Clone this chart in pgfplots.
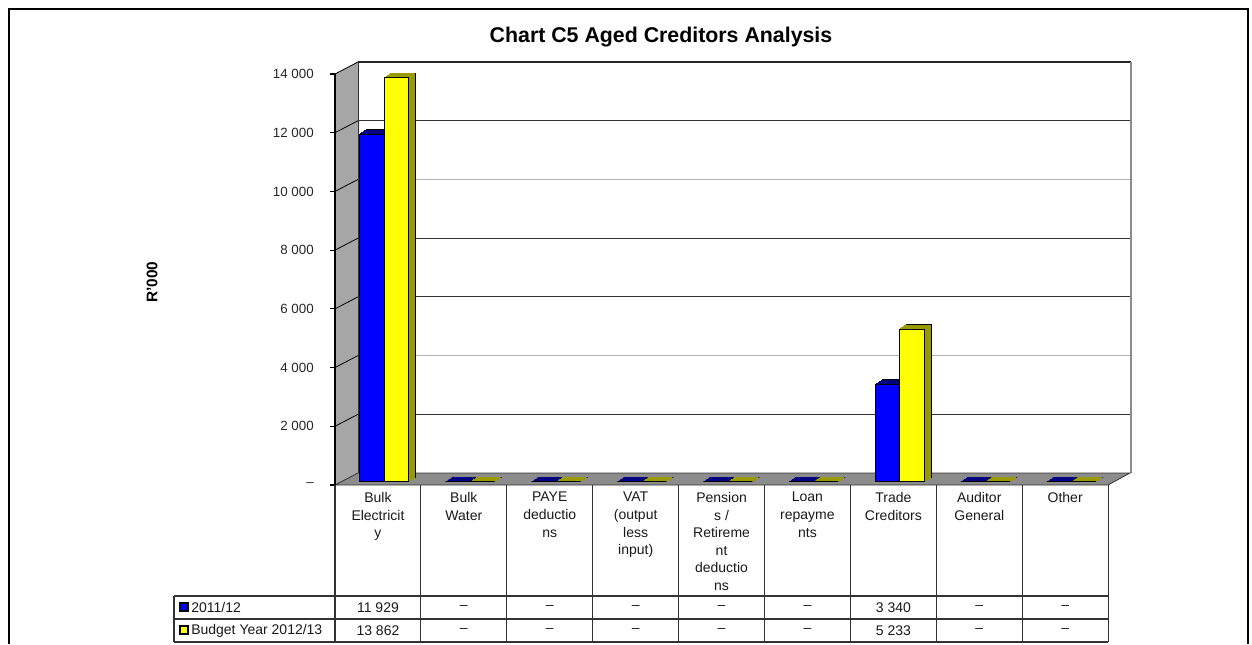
\documentclass[border=0pt]{standalone}
\usepackage{pgfplots}
\pgfplotsset{compat=1.18}
\usepackage{pgfplotstable}
\usepackage{fontspec}
\setmainfont{Liberation Sans}
\definecolor{barblue}{RGB}{0,0,255}
\definecolor{darkblue}{RGB}{0,0,128}
\definecolor{baryellow}{RGB}{255,255,0}
\definecolor{darkyellow}{RGB}{153,153,0}
\definecolor{wallgray}{RGB}{166,166,166}
\definecolor{floorgray}{RGB}{140,140,140}
\pgfplotsset{scaled y ticks=false, scaled x ticks=false}

\pgfplotstableread{
x a b
1 11929 13862
2 0 0
3 0 0
4 0 0
5 0 0
6 0 0
7 3340 5233
8 0 0
9 0 0
}\data

\begin{document}
\begin{tikzpicture}[x=0.75pt,y=0.75pt]
\useasboundingbox (0,0) rectangle (1252,644);
% outer frame
\draw[line width=1.3pt] (9,0) -- (9,635) -- (1248,635) -- (1248,0);
% title
\node[font=\fontsize{16}{19}\selectfont\bfseries] at (661,607) {Chart C5 Aged Creditors Analysis};
\node[rotate=90, font=\fontsize{11.5}{13}\selectfont\bfseries] at (152,362) {R'000};

% back wall
\begin{axis}[at={(268.5pt,128.25pt)}, anchor=south west, scale only axis,
  width=579.75pt, height=308.25pt,
  xmin=0.5, xmax=9.5, ymin=0, ymax=14000,
  xtick=\empty, ytick={2000,6000,8000,12000}, yticklabels={},
  major tick length=0pt, ymajorgrids,
  major grid style={black!80, line width=0.8pt},
  extra y ticks={4000,10000}, extra y tick labels={},
  extra y tick style={major grid style={black!30, line width=0.8pt}},
  axis line style={draw=none}, clip=false]
\draw[black!85, line width=0.8pt] (rel axis cs:0,1) -- (rel axis cs:1,1);
\draw[black!45, line width=1.6pt] (rel axis cs:1,1) -- (rel axis cs:1,0);
\end{axis}

% left wall
\fill[wallgray] (335,159) -- (335,570) -- (358,582) -- (358,171) -- cycle;
\draw[black!80, line width=0.6pt] (358,171) -- (358,582);
\foreach \k in {1,...,7} \draw[black, line width=0.6pt] (335,{159+58.714*\k}) -- (358,{171+58.714*\k});
% floor
\filldraw[fill=floorgray, draw=black!80, line width=0.6pt] (335,159) -- (1108,159) -- (1130,171) -- (358,171) -- cycle;

% bars
\begin{axis}[at={(255.975pt,121.725pt)}, anchor=south west, scale only axis,
  width=579.75pt, height=306pt, hide axis,
  xmin=0.5, xmax=9.5, ymin=0, ymax=14000, clip=false]
\addplot[ybar, bar width=18.4pt, bar shift=-9.19pt, fill=darkblue, draw=black, line width=0.6pt, xshift=5.25pt, yshift=3.36pt] table[x=x,y=a]{\data};
\pgfplotsinvokeforeach{1,...,6}{
\addplot[ybar, bar width=18.4pt, bar shift=-9.19pt, fill=darkblue, draw=darkblue, line width=0.75pt, xshift=#1*0.75pt, yshift=#1*0.48pt] table[x=x,y=a]{\data};
}
\addplot[ybar, bar width=18.4pt, bar shift=-9.19pt, fill=barblue, draw=black, line width=0.6pt] table[x=x,y=a]{\data};
\addplot[ybar, bar width=18.4pt, bar shift=9.19pt, fill=darkyellow, draw=black, line width=0.6pt, xshift=5.25pt, yshift=3.36pt] table[x=x,y=b]{\data};
\pgfplotsinvokeforeach{1,...,6}{
\addplot[ybar, bar width=18.4pt, bar shift=9.19pt, fill=darkyellow, draw=darkyellow, line width=0.75pt, xshift=#1*0.75pt, yshift=#1*0.48pt] table[x=x,y=b]{\data};
}
\addplot[ybar, bar width=18.4pt, bar shift=9.19pt, fill=baryellow, draw=black, line width=0.6pt] table[x=x,y=b]{\data};
\end{axis}

% front axis with tick labels
\begin{axis}[at={(251.25pt,119.25pt)}, anchor=south west, scale only axis,
  width=579.75pt, height=308.25pt,
  xmin=0.5, xmax=9.5, ymin=0, ymax=14000,
  axis x line=none, axis y line*=left,
  y axis line style={black, line width=0.8pt},
  ytick={0,2000,4000,6000,8000,10000,12000,14000},
  yticklabels={–,2 000,4 000,6 000,8 000,10 000,12 000,14 000},
  tick align=outside, major tick length=3.75pt,
  tick style={black, line width=0.8pt},
  yticklabel style={font=\fontsize{10}{12}\selectfont, text=black!85, inner sep=0pt, anchor=east},
  yticklabel shift=12pt]
\end{axis}

% data table
\foreach \xx in {335,420.9,506.8,592.7,678.6,764.5,850.4,936.3,1022.2,1108.1}
  \draw[black!80, line width=0.8pt] (\xx,159) -- (\xx,2);
\draw[black!80, line width=0.8pt] (174,48) -- (1108.1,48);
\draw[black!80, line width=0.8pt] (174,25) -- (1108.1,25);
\draw[black!80, line width=0.8pt] (174,2) -- (1108.1,2);
\draw[black!80, line width=0.8pt] (174,48) -- (174,2);

\foreach \i/\t in {1/{Bulk\\Electricit\\y}, 2/{Bulk\\Water}, 3/{PAYE\\deductio\\ns}, 4/{VAT\\(output\\less\\input)}, 5/{Pension\\s /\\Retireme\\nt\\deductio\\ns}, 6/{Loan\\repayme\\nts}, 7/{Trade\\Creditors}, 8/{Auditor\\General}, 9/{Other}}
  \node[anchor=north, align=center, inner sep=0pt, font=\fontsize{10.5}{13.2}\selectfont, text=black!90] at ({335+85.9*(\i-0.5)},152) {\t};

\foreach \i/\u/\v in {1/11 929/13 862, 2/–/–, 3/–/–, 4/–/–, 5/–/–, 6/–/–, 7/3 340/5 233, 8/–/–, 9/–/–} {
  \node[font=\fontsize{10.5}{12}\selectfont, text=black!90] at ({335+85.9*(\i-0.5)},36.5) {\u};
  \node[font=\fontsize{10.5}{12}\selectfont, text=black!90] at ({335+85.9*(\i-0.5)},13.5) {\v};
}
\filldraw[fill=barblue, draw=black, line width=0.8pt] (180,33) rectangle (188,41);
\filldraw[fill=baryellow, draw=black, line width=0.8pt] (180,10) rectangle (188,18);
\node[anchor=west, inner sep=0pt, font=\fontsize{10.5}{12}\selectfont, text=black!90] at (191,36.5) {2011/12};
\node[anchor=west, inner sep=0pt, font=\fontsize{10.5}{12}\selectfont, text=black!90] at (191,13.5) {Budget Year 2012/13};
\end{tikzpicture}
\end{document}
